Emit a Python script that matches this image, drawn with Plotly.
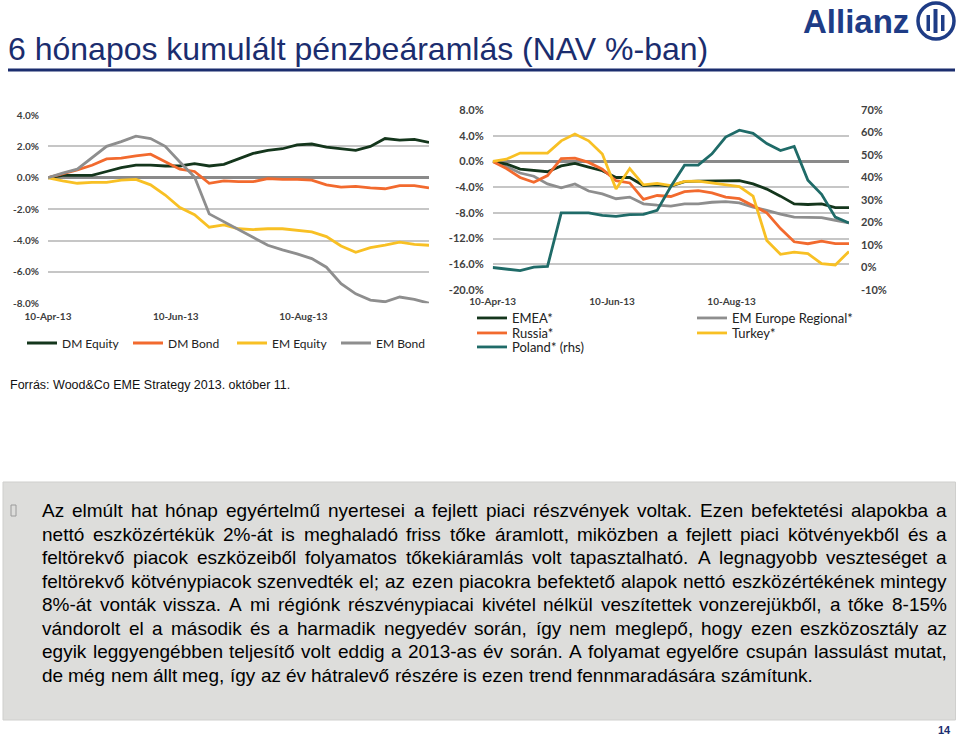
import plotly.graph_objects as go

W, H = 960, 736

# ---------------- data ----------------
dates = ["2013-04-10", "2013-04-17", "2013-04-24", "2013-05-01", "2013-05-08", "2013-05-15",
         "2013-05-22", "2013-05-29", "2013-06-05", "2013-06-12", "2013-06-19", "2013-06-26",
         "2013-07-03", "2013-07-10", "2013-07-17", "2013-07-24", "2013-07-31", "2013-08-07",
         "2013-08-14", "2013-08-21", "2013-08-28", "2013-09-04", "2013-09-11", "2013-09-18",
         "2013-09-25", "2013-10-02", "2013-10-09"]

dm_equity = [0, 0.15, 0.15, 0.15, 0.4, 0.65, 0.8, 0.8, 0.75, 0.75, 0.9, 0.75, 0.85, 1.2, 1.55,
             1.75, 1.85, 2.1, 2.15, 1.95, 1.85, 1.75, 2.0, 2.5, 2.4, 2.45, 2.25]
dm_bond = [0, 0.25, 0.5, 0.8, 1.2, 1.25, 1.4, 1.5, 1.0, 0.55, 0.4, -0.35, -0.2, -0.25, -0.25,
           -0.05, -0.1, -0.1, -0.15, -0.45, -0.6, -0.55, -0.65, -0.7, -0.5, -0.5, -0.65]
em_equity = [0, -0.2, -0.35, -0.3, -0.3, -0.15, -0.1, -0.45, -1.1, -1.9, -2.35, -3.15, -3.0,
             -3.25, -3.3, -3.25, -3.25, -3.35, -3.45, -3.75, -4.35, -4.75, -4.45, -4.3, -4.1,
             -4.25, -4.3]
em_bond = [0, 0.3, 0.55, 1.25, 2.0, 2.3, 2.65, 2.5, 2.0, 1.0, 0.05, -2.3, -2.8, -3.35, -3.85,
           -4.3, -4.6, -4.85, -5.15, -5.7, -6.75, -7.4, -7.8, -7.9, -7.6, -7.75, -8.0]

emea = [0, -0.4, -1.2, -1.45, -1.6, -0.7, -0.3, -0.9, -1.45, -2.5, -2.5, -3.75, -3.65, -3.85,
        -3.15, -3.05, -3.0, -3.0, -3.0, -3.5, -4.3, -5.4, -6.6, -6.7, -6.6, -7.2, -7.2]
em_europe = [0, -0.8, -1.8, -2.3, -3.5, -4.1, -3.5, -4.6, -5.05, -5.8, -5.55, -6.6, -6.8, -6.95,
             -6.6, -6.6, -6.35, -6.25, -6.45, -7.1, -7.6, -8.2, -8.65, -8.75, -8.75, -9.15, -9.55]
russia = [0, -1.1, -2.5, -3.25, -2.2, 0.45, 0.5, -0.15, -1.2, -3.0, -3.35, -5.9, -5.3, -5.45,
          -4.7, -4.55, -4.9, -5.55, -5.8, -6.85, -8.0, -10.45, -12.5, -12.8, -12.4, -12.8, -12.8]
turkey = [0, 0.35, 1.3, 1.3, 1.3, 3.2, 4.25, 3.2, 1.15, -4.3, -1.1, -3.65, -3.4, -3.75, -3.1,
          -3.05, -3.3, -3.65, -3.9, -5.4, -12.3, -14.45, -14.1, -14.35, -15.9, -16.1, -14.0]
poland_rhs = [0, -0.6, -1.4, 0.2, 0.5, 24.3, 24.3, 24.3, 23.2, 22.7, 23.5, 23.6, 25.4, 36.0,
              45.5, 45.5, 50.5, 58.0, 61.0, 59.6, 55.1, 52.0, 53.8, 38.8, 32.5, 22.4, 19.8]

x_tickvals = ["2013-04-10", "2013-06-10", "2013-08-10"]
x_ticktext = ["10-Apr-13", "10-Jun-13", "10-Aug-13"]
left_yvals = [-8, -6, -4, -2, 0, 2, 4]
left_ytext = ["-8.0%", "-6.0%", "-4.0%", "-2.0%", "0.0%", "2.0%", "4.0%"]
right_yvals = [-20, -16, -12, -8, -4, 0, 4, 8]
right_ytext = ["-20.0%", "-16.0%", "-12.0%", "-8.0%", "-4.0%", "0.0%", "4.0%", "8.0%"]
rhs_yvals = [-10, 0, 10, 20, 30, 40, 50, 60, 70]
rhs_ytext = ["-10%", "0%", "10%", "20%", "30%", "40%", "50%", "60%", "70%"]

title_text = "6 hónapos kumulált pénzbeáramlás (NAV %-ban)"
source_text = "Forrás: Wood&Co EME Strategy 2013. október 11."
body_lines = [
    "Az elmúlt hat hónap egyértelmű nyertesei a fejlett piaci részvények voltak. Ezen befektetési alapokba a",
    "nettó eszközértékük 2%-át is meghaladó friss tőke áramlott, miközben a fejlett piaci kötvényekből és a",
    "feltörekvő piacok eszközeiből folyamatos tőkekiáramlás volt tapasztalható. A legnagyobb veszteséget a",
    "feltörekvő kötvénypiacok szenvedték el; az ezen piacokra befektető alapok nettó eszközértékének mintegy",
    "8%-át vonták vissza. A mi régiónk részvénypiacai kivétel nélkül veszítettek vonzerejükből, a tőke 8-15%",
    "vándorolt el a második és a harmadik negyedév során, így nem meglepő, hogy ezen eszközosztály az",
    "egyik leggyengébben teljesítő volt eddig a 2013-as év során. A folyamat egyelőre csupán lassulást mutat,",
    "de még nem állt meg, így az év hátralevő részére is ezen trend fennmaradására számítunk.",
]

# ---------------- styling ----------------
C_DKGREEN = "#14361C"
C_ORANGE = "#F26A2E"
C_YELLOW = "#F8C024"
C_GRAY = "#8E8E8E"
C_TEAL = "#1F6B68"
NAVY = "#1B2D6E"
LOGO = "#1E3C86"
TICKFONT = dict(family="Lato, Open Sans, sans-serif", size=10, color="#404040", weight="bold")
TICKFONT_R = dict(family="Lato, Open Sans, sans-serif", size=11, color="#404040", weight="bold")


def px_x(x):
    return x / W


def px_y(y):
    return 1 - y / H


fig = go.Figure()

left_series = [("DM Equity", dm_equity, C_DKGREEN), ("DM Bond", dm_bond, C_ORANGE),
               ("EM Equity", em_equity, C_YELLOW), ("EM Bond", em_bond, C_GRAY)]
left_legend_pos = [(62, 343), (168, 343), (272, 343), (376, 343)]
legend_layouts = {}
n_leg = 0
for (name, vals, col), (lx, ly) in zip(left_series, left_legend_pos):
    n_leg += 1
    key = "legend" if n_leg == 1 else f"legend{n_leg}"
    fig.add_trace(go.Scatter(x=dates, y=vals, name=name, mode="lines",
                             line=dict(color=col, width=2.8), xaxis="x", yaxis="y",
                             legend=key, showlegend=True))
    legend_layouts[key] = dict(x=px_x(lx - 40), y=px_y(ly), xanchor="left", yanchor="middle",
                               bgcolor="rgba(0,0,0,0)", borderwidth=0,
                               font=dict(family="Lato, sans-serif", size=12, color="#222222"))

# draw order on right chart: grey, teal, green, orange, yellow
right_series = [("EM Europe Regional*", em_europe, C_GRAY, "y2", (732, 318)),
                ("Poland* (rhs)", poland_rhs, C_TEAL, "y3", (512, 347)),
                ("EMEA*", emea, C_DKGREEN, "y2", (512, 318)),
                ("Russia*", russia, C_ORANGE, "y2", (512, 333)),
                ("Turkey*", turkey, C_YELLOW, "y2", (732, 333))]
for name, vals, col, yax, (lx, ly) in right_series:
    n_leg += 1
    key = f"legend{n_leg}"
    fig.add_trace(go.Scatter(x=dates, y=vals, name=name, mode="lines",
                             line=dict(color=col, width=2.8), xaxis="x2", yaxis=yax,
                             legend=key, showlegend=True))
    legend_layouts[key] = dict(x=px_x(lx - 40), y=px_y(ly), xanchor="left", yanchor="middle",
                               bgcolor="rgba(0,0,0,0)", borderwidth=0,
                               font=dict(family="Lato, sans-serif", size=13, color="#222222"))

grid_common = dict(showgrid=True, gridcolor="#C6C6C6", gridwidth=2, zeroline=True,
                   zerolinecolor="#8A8A8A", zerolinewidth=2.5, showline=False, ticks="",
                   fixedrange=True, automargin=False)

fig.update_layout(
    width=W, height=H, margin=dict(l=0, r=0, t=0, b=0, pad=0, autoexpand=False),
    paper_bgcolor="white", plot_bgcolor="rgba(0,0,0,0)",
    xaxis=dict(domain=[px_x(48), px_x(429)], anchor="y", type="date",
               range=[dates[0], dates[-1]], tickvals=x_tickvals, ticktext=x_ticktext,
               showgrid=False, zeroline=False, showline=False, ticks="", tickfont=TICKFONT,
               ticklabelstandoff=6, automargin=False, fixedrange=True),
    yaxis=dict(domain=[px_y(303.3), px_y(115)], anchor="x", range=[-8, 4],
               tickvals=left_yvals, ticktext=left_ytext, ticklabelstandoff=8,
               tickfont=TICKFONT, **grid_common),
    xaxis2=dict(domain=[px_x(492.7), px_x(849)], anchor="y2", type="date",
                range=[dates[0], dates[-1]], tickvals=x_tickvals, ticktext=x_ticktext,
                showgrid=False, zeroline=False, showline=False, ticks="", tickfont=TICKFONT,
                ticklabelstandoff=4, automargin=False, fixedrange=True),
    yaxis2=dict(domain=[px_y(290), px_y(110)], anchor="x2", range=[-20, 8],
                tickvals=right_yvals, ticktext=right_ytext, ticklabelstandoff=8,
                tickfont=TICKFONT_R, **grid_common),
    yaxis3=dict(overlaying="y2", anchor="x2", side="right", range=[-10, 70],
                tickvals=rhs_yvals, ticktext=rhs_ytext, showgrid=False, zeroline=False,
                showline=False, ticks="", tickfont=TICKFONT_R, ticklabelstandoff=11,
                fixedrange=True, automargin=False),
    showlegend=True,
    **legend_layouts,
)

shapes = []
annotations = []

# title + underline
annotations.append(dict(text=title_text, x=px_x(6), y=px_y(49), xref="paper", yref="paper",
                        xanchor="left", yanchor="middle", showarrow=False,
                        font=dict(family="Liberation Sans, Arial, sans-serif", size=32,
                                  color=NAVY)))
shapes.append(dict(type="line", xref="paper", yref="paper", x0=px_x(8), x1=px_x(955),
                   y0=px_y(70), y1=px_y(70), line=dict(color=NAVY, width=3)))

# Allianz logo
annotations.append(dict(text="<b>Allianz</b>", x=px_x(801), y=px_y(21), xref="paper",
                        yref="paper", xanchor="left", yanchor="middle", showarrow=False,
                        font=dict(family="Liberation Sans, Arial, sans-serif", size=33,
                                  color=LOGO)))
shapes.append(dict(type="circle", xref="paper", yref="paper", x0=px_x(918), x1=px_x(954),
                   y0=px_y(39), y1=px_y(3), line=dict(color=LOGO, width=3.5)))
for bx0, bx1, by0, by1 in [(926.5, 930, 15, 31), (933.5, 937.5, 9, 33), (941, 944.5, 15, 31)]:
    shapes.append(dict(type="rect", xref="paper", yref="paper", x0=px_x(bx0), x1=px_x(bx1),
                       y0=px_y(by1), y1=px_y(by0), fillcolor=LOGO, line=dict(width=0)))

# source
annotations.append(dict(text=source_text, x=px_x(8), y=px_y(385), xref="paper", yref="paper",
                        xanchor="left", yanchor="middle", showarrow=False,
                        font=dict(family="Liberation Sans, Arial, sans-serif", size=12.5,
                                  color="#111111")))

# grey text box
shapes.append(dict(type="rect", xref="paper", yref="paper", x0=px_x(3), x1=px_x(955.5),
                   y0=px_y(720), y1=px_y(482), fillcolor="#DDDDDB",
                   line=dict(color="#CFCFCD", width=1), layer="below"))
shapes.append(dict(type="rect", xref="paper", yref="paper", x0=px_x(11), x1=px_x(16),
                   y0=px_y(516), y1=px_y(505), fillcolor="rgba(0,0,0,0)",
                   line=dict(color="#9A9A9A", width=1)))

# justified body text (Arial metrics)
CW = {" ": 278, "a": 556, "b": 556, "c": 500, "d": 556, "e": 556, "f": 278, "g": 556,
      "h": 556, "i": 222, "j": 222, "k": 500, "l": 222, "m": 833, "n": 556, "o": 556,
      "p": 556, "q": 556, "r": 333, "s": 500, "t": 278, "u": 556, "v": 500, "w": 722,
      "x": 500, "y": 500, "z": 500, "A": 667, "E": 667, "%": 889, "-": 333, ".": 278,
      ",": 278, ";": 278, "í": 278}
BODY_FS = 19


def text_w(s):
    return sum(CW.get(ch, 556) for ch in s) / 1000 * BODY_FS


x_left, x_right = 40, 945
for i, line in enumerate(body_lines):
    yc = 511 + 23.45 * i
    words = line.split(" ")
    widths = [text_w(w_) for w_ in words]
    if i == len(body_lines) - 1:
        gap = text_w(" ")
    else:
        gap = (x_right - x_left - sum(widths)) / (len(words) - 1)
    xc = x_left
    for w_, ww in zip(words, widths):
        annotations.append(dict(text=w_, x=px_x(xc), y=px_y(yc), xref="paper", yref="paper",
                                xanchor="left", yanchor="middle", showarrow=False,
                                font=dict(family="Liberation Sans, Arial, sans-serif",
                                          size=BODY_FS, color="#000000")))
        xc += ww + gap

# page number
annotations.append(dict(text="<b>14</b>", x=px_x(953), y=px_y(730), xref="paper", yref="paper",
                        xanchor="right", yanchor="middle", showarrow=False,
                        font=dict(family="Liberation Sans, Arial, sans-serif", size=11,
                                  color=NAVY)))

fig.update_layout(shapes=shapes, annotations=annotations)
fig.write_html("out.html", config={"displayModeBar": False},
               post_script="document.body.style.margin='0';")
